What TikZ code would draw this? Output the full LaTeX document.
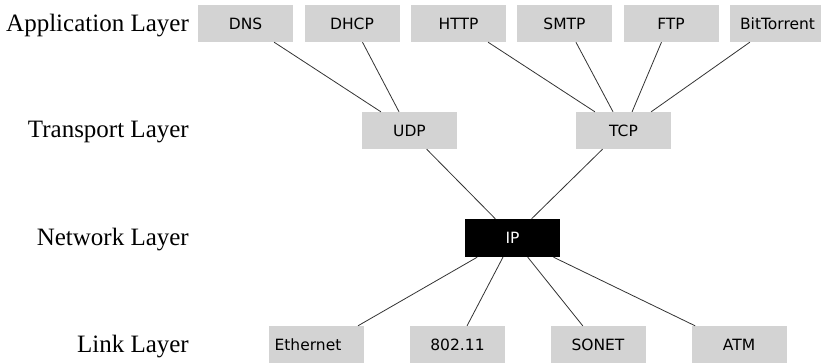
\documentclass[tikz,border=0pt]{standalone}
\usepackage{fontspec}
\setmainfont{Liberation Serif}
\newfontfamily\boxfont{DejaVu Sans}
\usetikzlibrary{calc}
\definecolor{boxgray}{HTML}{D3D3D3}
\definecolor{linkline}{HTML}{333333}
\tikzset{
  proto/.style={fill=boxgray, minimum width=95pt, minimum height=37pt, inner sep=0pt,
    font=\boxfont\fontsize{15.5}{18}\selectfont, text=black},
  hub/.style={proto, fill=black, text=white, minimum height=38pt},
  layer/.style={anchor=base east, inner sep=0pt, font=\fontsize{25}{30}\selectfont},
  wire/.style={draw=linkline, line width=0.8pt},
}
% point at fraction #2 along the bottom / top edge of node #1
\newcommand{\edgebot}[2]{($(#1.south west)!#2!(#1.south east)$)}
\newcommand{\edgetop}[2]{($(#1.north west)!#2!(#1.north east)$)}
\begin{document}
\begin{tikzpicture}[x=1pt, y=-1pt]
\useasboundingbox (0,0) rectangle (821,362);

% layer names
\node[layer] (lapp) at (189,31.5) {Application Layer};
\node[layer] (ltra) at (189,137) {Transport Layer};
\node[layer] (lnet) at (189,245) {Network Layer};
\node[layer] (llnk) at (189,352.5) {Link Layer};

% application protocols
\node[proto] (dns)  at (245.5,23.5) {DNS};
\node[proto] (dhcp) at (352,23.5) {DHCP};
\node[proto] (http) at (458.5,23.5) {HTTP};
\node[proto] (smtp) at (564.5,23.5) {\raisebox{-2pt}{SMTP}};
\node[proto] (ftp)  at (671,23.5) {FTP};
\node[proto] (bt)   at (777.5,23.5) {BitTorrent};

% transport protocols
\node[proto] (udp) at (409.5,130.5) {UDP};
\node[proto] (tcp) at (623.5,130.5) {TCP};

% network
\node[hub] (ip) at (512.5,238) {IP};

% link technologies
\node[proto] (eth)  at (316,344.5) {Ethernet\kern16pt};
\node[proto] (wifi) at (457.5,344.5) {802.11};
\node[proto] (sonet) at (598,344.5) {SONET};
\node[proto] (atm)  at (739,344.5) {ATM};

% application -> transport
\draw[wire] \edgebot{dns}{0.8}  -- \edgetop{udp}{0.2};
\draw[wire] \edgebot{dhcp}{0.61} -- \edgetop{udp}{0.39};
\draw[wire] \edgebot{http}{0.81} -- \edgetop{tcp}{0.2};
\draw[wire] \edgebot{smtp}{0.62} -- \edgetop{tcp}{0.39};
\draw[wire] \edgebot{ftp}{0.4}  -- \edgetop{tcp}{0.59};
\draw[wire] \edgebot{bt}{0.21}  -- \edgetop{tcp}{0.79};

% transport -> network
\draw[wire] \edgebot{udp}{0.68} -- \edgetop{ip}{0.32};
\draw[wire] \edgebot{tcp}{0.28} -- \edgetop{ip}{0.7};

% network -> link
\draw[wire] \edgebot{ip}{0.13} -- \edgetop{eth}{0.94};
\draw[wire] \edgebot{ip}{0.4}  -- \edgetop{wifi}{0.6};
\draw[wire] \edgebot{ip}{0.66} -- \edgetop{sonet}{0.34};
\draw[wire] \edgebot{ip}{0.93} -- \edgetop{atm}{0.04};
\end{tikzpicture}
\end{document}
